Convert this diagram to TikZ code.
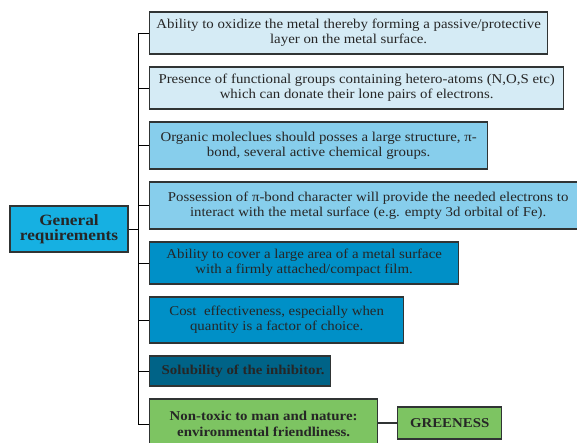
\documentclass[tikz,border=0pt]{standalone}
\usepackage{fontspec}
\setmainfont{Liberation Serif}[FakeStretch=1.1]
\usepackage{xcolor}
\usetikzlibrary{positioning,calc}
\definecolor{paleblue}{RGB}{213,235,245}
\definecolor{skyblue}{RGB}{135,206,236}
\definecolor{midblue}{RGB}{0,144,199}
\definecolor{deepteal}{RGB}{0,99,135}
\definecolor{leafgreen}{RGB}{125,196,98}
\definecolor{genblue}{RGB}{22,176,226}
\definecolor{edgegray}{RGB}{48,52,52}
\definecolor{txtgray}{RGB}{38,38,38}

\begin{document}
\begin{tikzpicture}[x=1pt, y=-1pt, line width=1pt,
  req/.style={draw=edgegray, line width=1.3pt, anchor=west, align=center, inner sep=1pt,
    font=\fontsize{13.5}{15.3}\selectfont, text=txtgray},
  reqb/.style={req, font=\fontsize{13.5}{15.3}\selectfont\bfseries},
  genbox/.style={draw=edgegray, line width=1.3pt, align=center, inner sep=1pt, fill=genblue,
    font=\fontsize{15.7}{15.3}\selectfont\bfseries, text=txtgray}]
\useasboundingbox (0,0) rectangle (577,442);
% requirement boxes, left edges on one line
\node[req, fill=paleblue, minimum width=398, minimum height=42] (r1) at (149,33)
  {Ability to oxidize the metal thereby forming a passive/protective\\layer on the metal surface.};
\node[req, fill=paleblue, minimum width=414, minimum height=42] (r2) at (149,88)
  {Presence of functional groups containing hetero-atoms (N,O,S etc)\\which can donate their lone pairs of electrons.};
\node[req, fill=skyblue, minimum width=338, minimum height=47] (r3) at (149,145.5)
  {Organic moleclues should posses a large structure, π-\\bond, several active chemical groups.};
\node[req, fill=skyblue, minimum width=437, minimum height=47] (r4) at (149,205.5)
  {Possession of π-bond character will provide the needed electrons to\\interact with the metal surface (e.g. empty 3d orbital of Fe).};
\node[req, fill=midblue, minimum width=309, minimum height=42] (r5) at (149,263)
  {Ability to cover a large area of a metal surface\\with a firmly attached/compact film.};
\node[req, fill=midblue, minimum width=254, minimum height=46] (r6) at (149,320)
  {Cost~~effectiveness, especially when\\quantity is a factor of choice.};
\node[reqb, fill=deepteal, minimum width=181, minimum height=30] (r7) at (149,371)
  {\hspace{6pt}Solubility of the inhibitor.};
\node[reqb, fill=leafgreen, minimum width=228, minimum height=50] (r8) at (149,424)
  {Non-toxic to man and nature:\\environmental friendliness.};
\node[reqb, fill=leafgreen, minimum width=104, minimum height=32] (grn) at (397,423)
  {GREENESS};
% root
\node[genbox, minimum width=118, minimum height=46] (gen) at (69,229) {General\\requirements};
% tree lines
\coordinate (ttop) at (138,33);
\draw (r1.west) -- (ttop) -- (ttop |- r8.west) -- (r8.west);
\foreach \i in {2,...,7}
  \draw (r\i.west) -- (r\i.west -| ttop);
\draw (gen.east) -- (gen.east -| ttop);
\draw[line width=1.3pt, draw=edgegray] (r8.east |- grn.west) -- (grn.west);
\end{tikzpicture}
\end{document}
